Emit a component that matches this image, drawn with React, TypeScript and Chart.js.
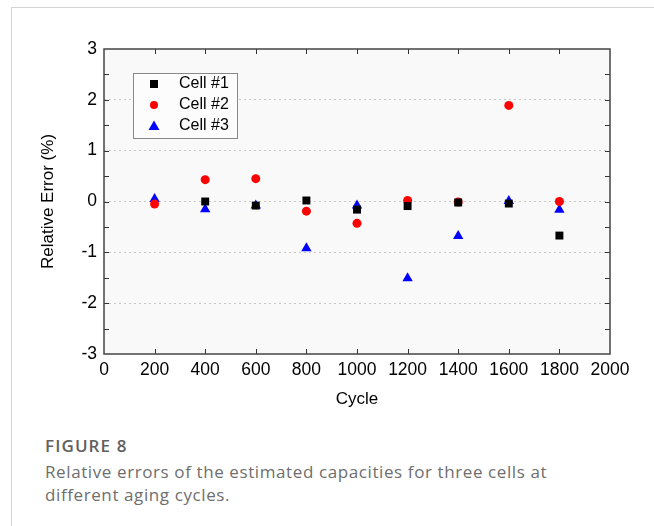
import React, { useEffect, useRef } from "react";
import { Chart, registerables } from "chart.js";

Chart.register(...registerables);

const cycles = [200, 400, 600, 800, 1000, 1200, 1400, 1600, 1800];
const cell1 = [null, 0.0, -0.08, 0.02, -0.16, -0.09, -0.02, -0.04, -0.67];
const cell2 = [-0.05, 0.43, 0.45, -0.19, -0.43, 0.02, -0.01, 1.89, 0.0];
const cell3 = [0.05, -0.15, -0.08, -0.92, -0.08, -1.51, -0.68, 0.01, -0.16];
const seriesNames = ["Cell #1", "Cell #2", "Cell #3"];
const xTicks = [0, 200, 400, 600, 800, 1000, 1200, 1400, 1600, 1800, 2000];
const yTicks = [-3, -2, -1, 0, 1, 2, 3];
const yMinorTicks = [-2.5, -1.5, -0.5, 0.5, 1.5, 2.5];

const FONT = "'Liberation Sans', Arial, sans-serif";

const frame = {
  id: "frame",
  beforeDraw(chart: any) {
    const { ctx, chartArea: a } = chart;
    ctx.save();
    ctx.fillStyle = "#f9f9f9";
    ctx.fillRect(a.left, a.top, a.right - a.left, a.bottom - a.top);
    ctx.restore();
  },
  beforeDatasetsDraw(chart: any) {
    const { ctx, chartArea: a, scales } = chart;
    ctx.save();
    ctx.strokeStyle = "#333";
    ctx.lineWidth = 1;
    const tl = 5;
    ctx.beginPath();
    for (const v of xTicks) {
      if (v === 0 || v === 2000) continue;
      const x = Math.round(scales.x.getPixelForValue(v)) + 0.5;
      ctx.moveTo(x, a.bottom);
      ctx.lineTo(x, a.bottom - tl);
      ctx.moveTo(x, a.top);
      ctx.lineTo(x, a.top + tl);
    }
    for (const v of [...yTicks, ...yMinorTicks]) {
      if (v === -3 || v === 3) continue;
      const y = Math.round(scales.y.getPixelForValue(v)) + 0.5;
      ctx.moveTo(a.left, y);
      ctx.lineTo(a.left + tl, y);
      ctx.moveTo(a.right, y);
      ctx.lineTo(a.right - tl, y);
    }
    ctx.stroke();
    ctx.lineWidth = 1.5;
    ctx.strokeStyle = "#444";
    ctx.strokeRect(a.left, a.top, a.right - a.left, a.bottom - a.top);
    ctx.restore();
  },
  afterDatasetsDraw(chart: any) {
    const { ctx } = chart;
    ctx.save();
    const bx = 133, by = 73, bw = 104, bh = 65;
    ctx.fillStyle = "#fcfcfc";
    ctx.fillRect(bx, by, bw, bh);
    ctx.strokeStyle = "#888";
    ctx.lineWidth = 1;
    ctx.strokeRect(bx + 0.5, by + 0.5, bw, bh);
    const rows = [84, 105, 126];
    chart.data.datasets.forEach((ds: any, i: number) => {
      const y = rows[i];
      ctx.fillStyle = ds.backgroundColor;
      const style = ds.pointStyle;
      ctx.beginPath();
      if (style === "circle") {
        ctx.arc(154, y, 4, 0, Math.PI * 2);
      } else if (style === "rect") {
        ctx.rect(154 - 4, y - 4, 8, 8);
      } else {
        ctx.moveTo(154, y - 5.5);
        ctx.lineTo(154 + 5.5, y + 4);
        ctx.lineTo(154 - 5.5, y + 4);
        ctx.closePath();
      }
      ctx.fill();
      ctx.fillStyle = "#000";
      ctx.font = `16px ${FONT}`;
      ctx.textBaseline = "middle";
      ctx.textAlign = "left";
      ctx.fillText(seriesNames[i], 179, y);
    });
    ctx.restore();
  },
};

export default function App() {
  const ref = useRef<HTMLCanvasElement>(null);
  useEffect(() => {
    if (!ref.current) return;
    const mk = (d: (number | null)[]) => cycles.map((c, i) => ({ x: c, y: d[i] }));
    const chart = new Chart(ref.current, {
      type: "scatter",
      data: {
        datasets: [
          {
            label: seriesNames[0],
            data: mk(cell1) as any,
            pointStyle: "rect",
            backgroundColor: "#000000",
            borderColor: "#000000",
            pointRadius: 5.6,
            borderWidth: 0,
          },
          {
            label: seriesNames[1],
            data: mk(cell2) as any,
            pointStyle: "circle",
            backgroundColor: "#ff0000",
            borderColor: "#ff0000",
            pointRadius: 4.5,
            borderWidth: 0,
          },
          {
            label: seriesNames[2],
            data: mk(cell3) as any,
            pointStyle: "triangle",
            backgroundColor: "#0000ff",
            borderColor: "#0000ff",
            pointRadius: 6,
            borderWidth: 0,
          },
        ],
      },
      options: {
        animation: false,
        responsive: false,
        layout: { padding: { top: 49, right: 44, left: 0, bottom: 0 } },
        plugins: { legend: { display: false }, tooltip: { enabled: false } },
        scales: {
          x: {
            type: "linear",
            min: 0,
            max: 2000,
            afterBuildTicks: (s: any) => {
              s.ticks = xTicks.map((v) => ({ value: v }));
            },
            afterFit: (s: any) => {
              s.height = 66;
            },
            grid: { display: false, drawTicks: false },
            border: { display: false },
            ticks: {
              color: "#000",
              font: { family: FONT, size: 17.5 },
              padding: 6,
              maxRotation: 0,
              autoSkip: false,
              callback: (v: any) => String(v),
            },
            title: {
              display: true,
              text: "Cycle",
              color: "#000",
              font: { family: FONT, size: 17 },
              padding: { top: 4, bottom: 10 },
            },
          },
          y: {
            type: "linear",
            min: -3,
            max: 3,
            afterBuildTicks: (s: any) => {
              s.ticks = yTicks.map((v) => ({ value: v }));
            },
            afterFit: (s: any) => {
              s.width = 104;
            },
            grid: {
              color: (c: any) =>
                c.tick && (c.tick.value === -3 || c.tick.value === 3) ? "rgba(0,0,0,0)" : "#c8c8c8",
              drawTicks: false,
              lineWidth: 1,
            },
            border: { display: false, dash: [2, 3] },
            ticks: {
              color: "#000",
              font: { family: FONT, size: 17.5 },
              padding: 7,
              autoSkip: false,
              callback: (v: any) => String(v),
            },
            title: {
              display: true,
              text: "Relative Error (%)",
              color: "#000",
              font: { family: FONT, size: 17 },
              padding: { top: 38, bottom: 0 },
            },
          },
        },
      } as any,
      plugins: [frame],
    });
    return () => chart.destroy();
  }, []);

  return (
    <div style={{ position: "absolute", left: 0, top: 0, width: 654, height: 526, background: "#fff", overflow: "hidden" }}>
      <div
        style={{
          position: "absolute",
          left: 11,
          top: 7,
          width: 660,
          height: 540,
          borderTop: "1px solid #d4d4d4",
          borderLeft: "1px solid #d4d4d4",
        }}
      />
      <canvas ref={ref} width={654} height={420} style={{ position: "absolute", left: 0, top: 0, width: 654, height: 420 }} />
      <div
        style={{
          position: "absolute",
          left: 45,
          top: 434,
          fontFamily: "'Open Sans', sans-serif",
          fontWeight: 600,
          fontSize: 17,
          letterSpacing: "1.1px",
          color: "#606060",
        }}
      >
        FIGURE 8
      </div>
      <div
        style={{
          position: "absolute",
          left: 45,
          top: 460,
          width: 600,
          fontFamily: "'Open Sans', sans-serif",
          fontSize: 17,
          letterSpacing: "0.6px",
          lineHeight: "23px",
          color: "#6e6e6e",
          whiteSpace: "nowrap",
        }}
      >
        Relative errors of the estimated capacities for three cells at
        <br />
        different aging cycles.
      </div>
    </div>
  );
}
